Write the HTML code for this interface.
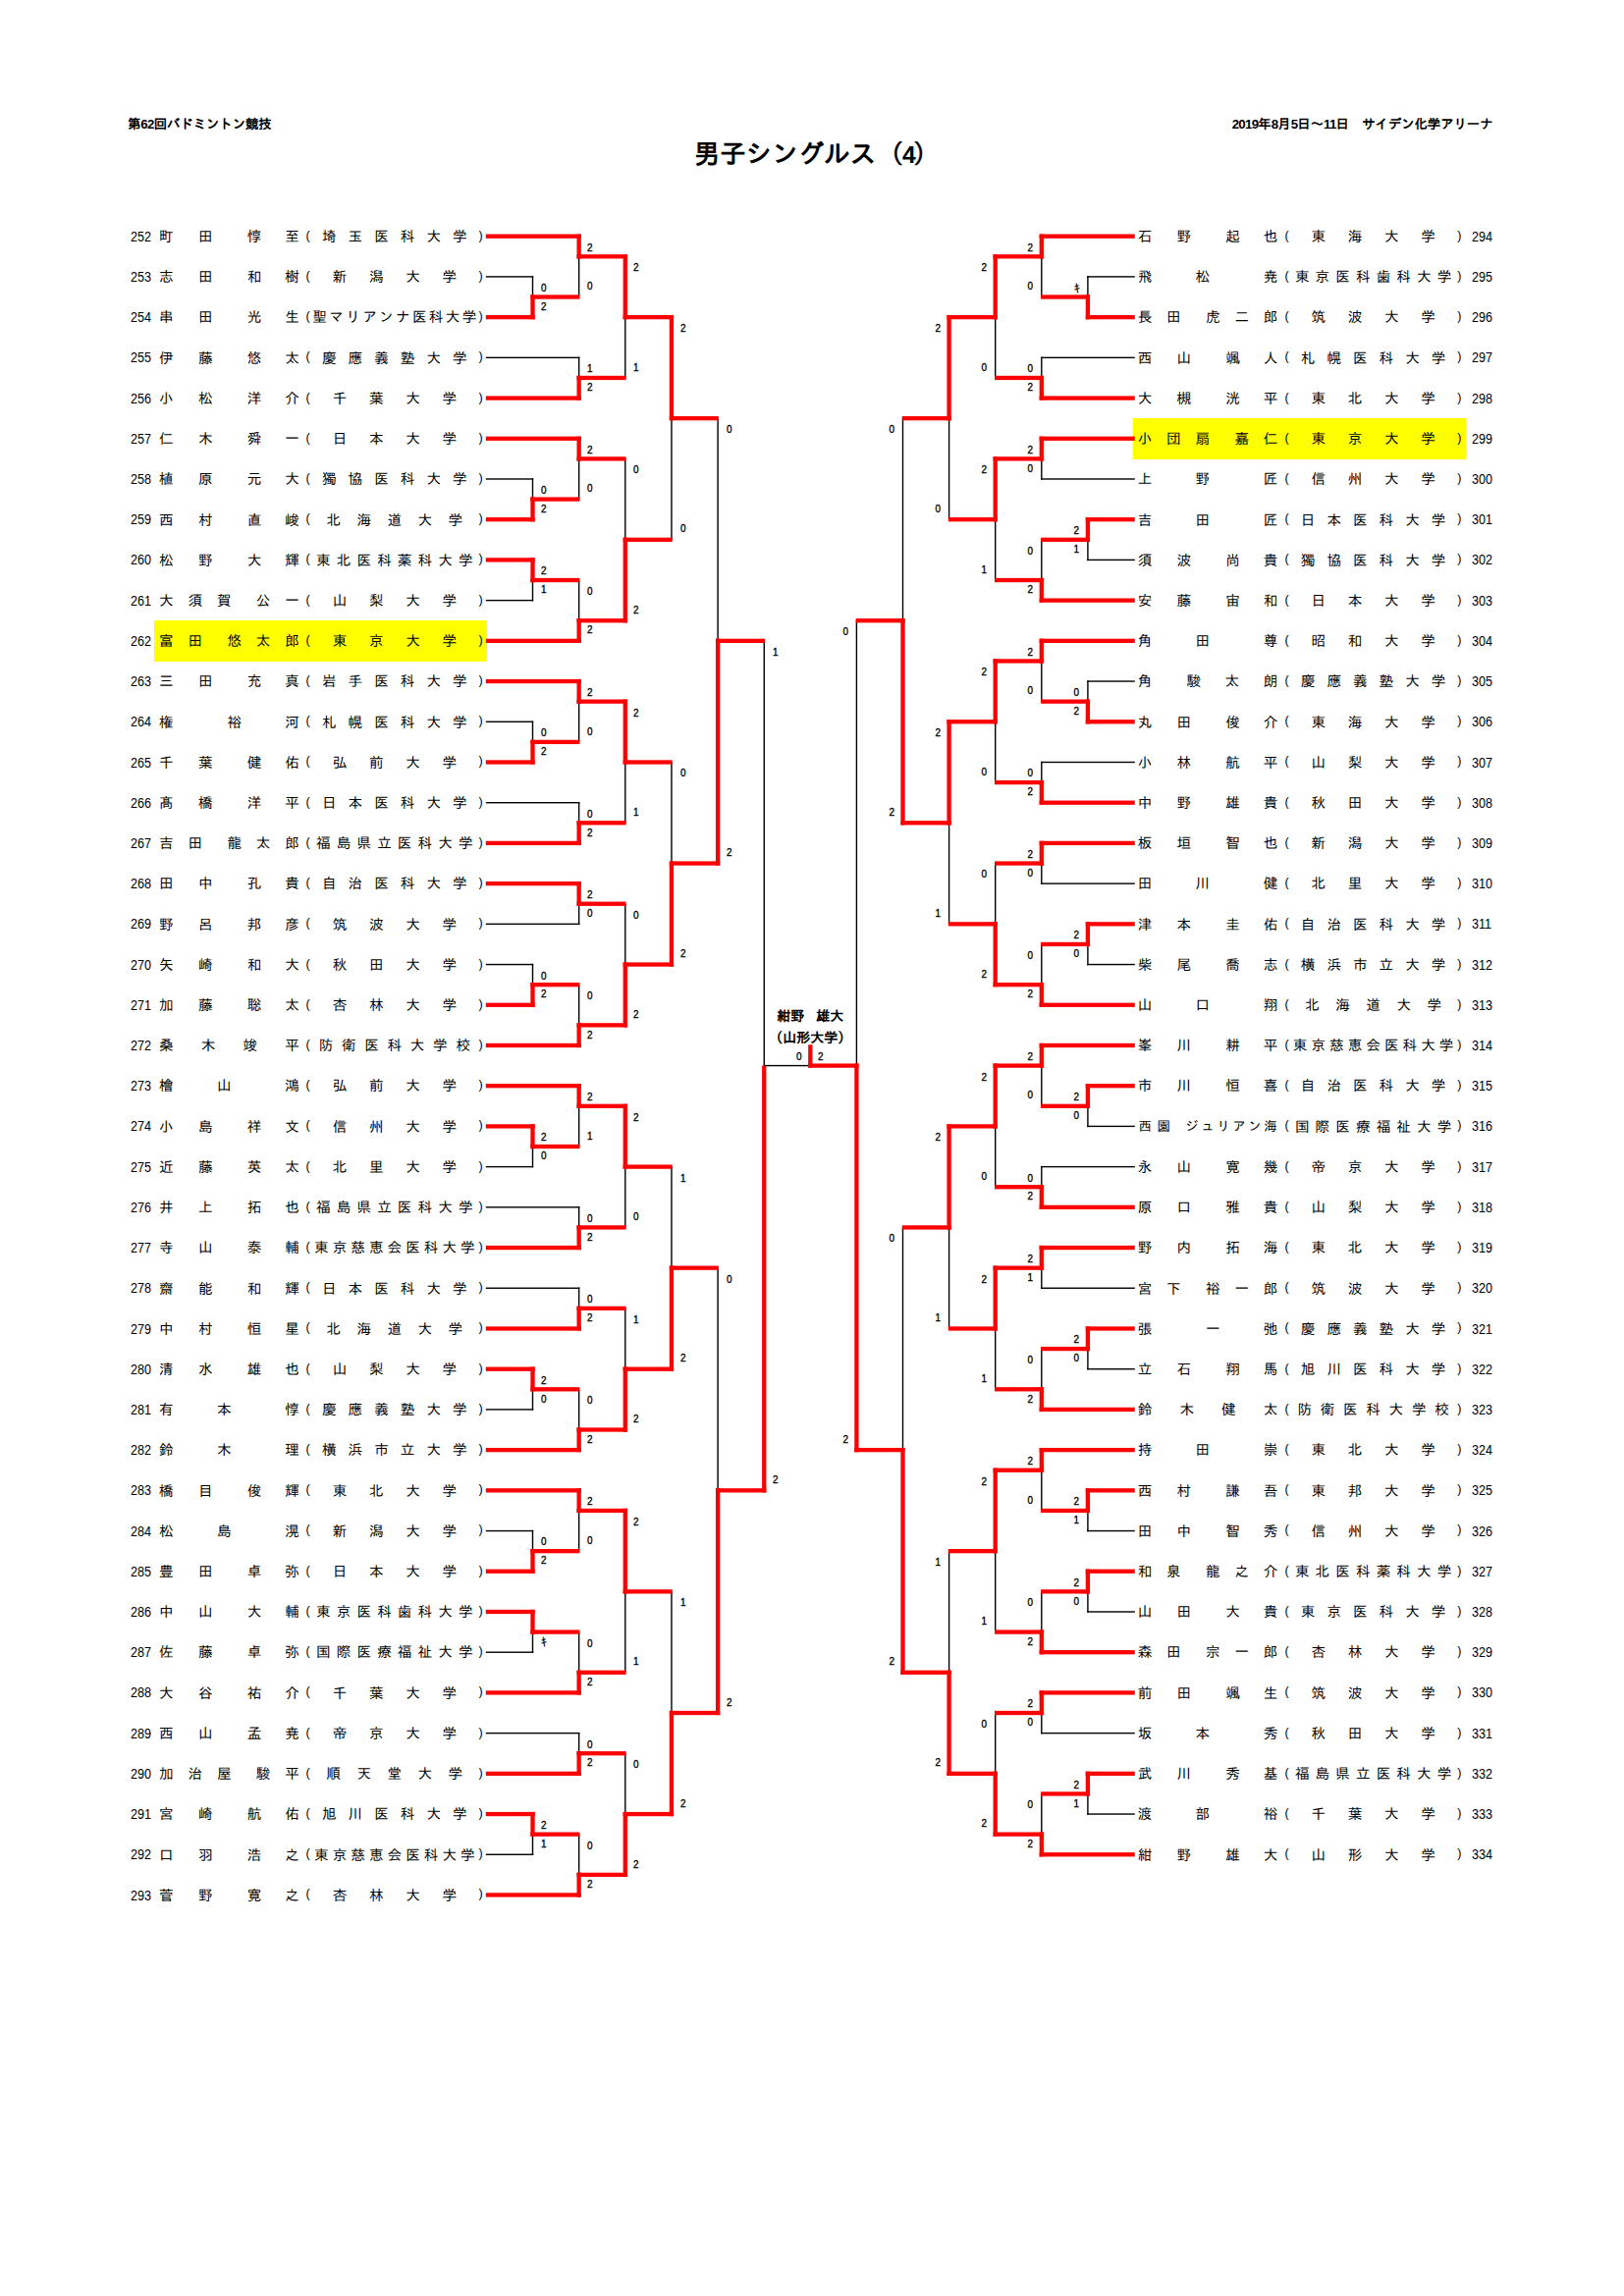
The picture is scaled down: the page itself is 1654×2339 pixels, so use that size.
<!DOCTYPE html>
<html lang="ja"><head><meta charset="utf-8"><title>男子シングルス（4）</title><style>
html,body{margin:0;padding:0;background:#fff}
body{width:1654px;height:2339px;position:relative;overflow:hidden;font-family:"Liberation Sans","IPAGothic","Noto Sans CJK JP",sans-serif;color:#000}
span{position:absolute;white-space:nowrap;line-height:1}
.n{font-size:14.6px}
.s13{font-size:13.4px}
.p{width:10px;text-align:center;font-size:12.5px;margin-top:-0.1px}
.num{font-size:14px;transform:scaleX(0.9);transform-origin:0 50%}
.sc{font-size:11px;margin-top:-5.5px;-webkit-text-stroke:0.35px #000;transform:scaleX(0.9);transform-origin:0 50%}
.scr{transform-origin:100% 50%}
.ki.scr{margin-right:-0.7px}
.ki{font-size:12px;margin-top:-5.3px;-webkit-text-stroke:0.2px #000;transform:none}
.hl{position:absolute;background:#ffff00}
.hd{font-size:13.33px;font-weight:bold}
.ttl{font-size:26.5px;font-weight:bold}
.ttl i{font-style:normal;position:relative}
.ttl i.pp{font-weight:normal;-webkit-text-stroke:0.55px #000}
b.d{letter-spacing:-0.75px}
.win{font-size:14px;font-weight:bold;text-align:center;width:120px}
svg{position:absolute;left:0;top:0}
</style></head><body>
<div class="hl" style="left:157.4px;top:631.5px;width:338.8px;height:42.3px"></div>
<div class="hl" style="left:1154.2px;top:425.5px;width:338.6px;height:42.3px"></div>
<svg width="1654" height="2339" viewBox="0 0 1654 2339"><g fill="#000"><rect x="494.80" y="281.21" width="48.40" height="1.40"/><rect x="541.80" y="281.21" width="1.40" height="21.31"/><rect x="494.80" y="487.28" width="48.40" height="1.40"/><rect x="541.80" y="487.28" width="1.40" height="21.31"/><rect x="494.80" y="610.93" width="48.40" height="1.40"/><rect x="541.80" y="591.02" width="1.40" height="21.31"/><rect x="494.80" y="734.57" width="48.40" height="1.40"/><rect x="541.80" y="734.57" width="1.40" height="21.31"/><rect x="494.80" y="981.85" width="48.40" height="1.40"/><rect x="541.80" y="981.85" width="1.40" height="21.31"/><rect x="494.80" y="1187.92" width="48.40" height="1.40"/><rect x="541.80" y="1168.01" width="1.40" height="21.31"/><rect x="494.80" y="1435.21" width="48.40" height="1.40"/><rect x="541.80" y="1415.30" width="1.40" height="21.31"/><rect x="494.80" y="1558.85" width="48.40" height="1.40"/><rect x="541.80" y="1558.85" width="1.40" height="21.31"/><rect x="494.80" y="1682.49" width="48.40" height="1.40"/><rect x="541.80" y="1662.58" width="1.40" height="21.31"/><rect x="494.80" y="1888.56" width="48.40" height="1.40"/><rect x="541.80" y="1868.65" width="1.40" height="21.31"/><rect x="588.95" y="261.31" width="1.40" height="41.91"/><rect x="494.80" y="363.64" width="95.55" height="1.40"/><rect x="588.95" y="363.64" width="1.40" height="21.31"/><rect x="588.95" y="467.38" width="1.40" height="41.91"/><rect x="588.95" y="590.32" width="1.40" height="41.91"/><rect x="588.95" y="714.66" width="1.40" height="41.91"/><rect x="494.80" y="817.00" width="95.55" height="1.40"/><rect x="588.95" y="817.00" width="1.40" height="21.31"/><rect x="494.80" y="940.64" width="95.55" height="1.40"/><rect x="588.95" y="920.73" width="1.40" height="21.31"/><rect x="588.95" y="1002.46" width="1.40" height="41.91"/><rect x="588.95" y="1126.80" width="1.40" height="41.91"/><rect x="494.80" y="1229.14" width="95.55" height="1.40"/><rect x="588.95" y="1229.14" width="1.40" height="21.31"/><rect x="494.80" y="1311.56" width="95.55" height="1.40"/><rect x="588.95" y="1311.56" width="1.40" height="21.31"/><rect x="588.95" y="1414.60" width="1.40" height="41.91"/><rect x="588.95" y="1538.94" width="1.40" height="41.91"/><rect x="588.95" y="1661.88" width="1.40" height="41.91"/><rect x="494.80" y="1764.92" width="95.55" height="1.40"/><rect x="588.95" y="1764.92" width="1.40" height="21.31"/><rect x="588.95" y="1867.95" width="1.40" height="41.91"/><rect x="636.10" y="323.13" width="1.40" height="62.52"/><rect x="636.10" y="466.68" width="1.40" height="83.13"/><rect x="636.10" y="776.48" width="1.40" height="62.52"/><rect x="636.10" y="920.03" width="1.40" height="62.52"/><rect x="636.10" y="1188.62" width="1.40" height="62.52"/><rect x="636.10" y="1332.17" width="1.40" height="62.52"/><rect x="636.10" y="1621.37" width="1.40" height="83.13"/><rect x="636.10" y="1785.52" width="1.40" height="62.52"/><rect x="683.25" y="426.16" width="1.40" height="124.34"/><rect x="683.25" y="775.78" width="1.40" height="103.74"/><rect x="683.25" y="1187.92" width="1.40" height="103.73"/><rect x="683.25" y="1620.67" width="1.40" height="124.34"/><rect x="730.40" y="425.46" width="1.40" height="227.38"/><rect x="730.40" y="1290.96" width="1.40" height="227.38"/><rect x="777.55" y="652.14" width="1.40" height="433.45"/><rect x="1107.20" y="281.21" width="48.60" height="1.40"/><rect x="1107.20" y="281.21" width="1.40" height="21.31"/><rect x="1107.20" y="569.71" width="48.60" height="1.40"/><rect x="1107.20" y="549.81" width="1.40" height="21.31"/><rect x="1107.20" y="693.35" width="48.60" height="1.40"/><rect x="1107.20" y="693.35" width="1.40" height="21.31"/><rect x="1107.20" y="981.85" width="48.60" height="1.40"/><rect x="1107.20" y="961.94" width="1.40" height="21.31"/><rect x="1107.20" y="1146.71" width="48.60" height="1.40"/><rect x="1107.20" y="1126.80" width="1.40" height="21.31"/><rect x="1107.20" y="1393.99" width="48.60" height="1.40"/><rect x="1107.20" y="1374.09" width="1.40" height="21.31"/><rect x="1107.20" y="1558.85" width="48.60" height="1.40"/><rect x="1107.20" y="1538.94" width="1.40" height="21.31"/><rect x="1107.20" y="1641.28" width="48.60" height="1.40"/><rect x="1107.20" y="1621.37" width="1.40" height="21.31"/><rect x="1107.20" y="1847.35" width="48.60" height="1.40"/><rect x="1107.20" y="1827.44" width="1.40" height="21.31"/><rect x="1060.10" y="261.31" width="1.40" height="41.91"/><rect x="1060.10" y="363.64" width="95.70" height="1.40"/><rect x="1060.10" y="363.64" width="1.40" height="21.31"/><rect x="1060.10" y="487.28" width="95.70" height="1.40"/><rect x="1060.10" y="467.38" width="1.40" height="21.31"/><rect x="1060.10" y="549.11" width="1.40" height="41.91"/><rect x="1060.10" y="673.45" width="1.40" height="41.91"/><rect x="1060.10" y="775.78" width="95.70" height="1.40"/><rect x="1060.10" y="775.78" width="1.40" height="21.31"/><rect x="1060.10" y="899.42" width="95.70" height="1.40"/><rect x="1060.10" y="879.52" width="1.40" height="21.31"/><rect x="1060.10" y="961.24" width="1.40" height="41.91"/><rect x="1060.10" y="1085.59" width="1.40" height="41.91"/><rect x="1060.10" y="1187.92" width="95.70" height="1.40"/><rect x="1060.10" y="1187.92" width="1.40" height="21.31"/><rect x="1060.10" y="1311.56" width="95.70" height="1.40"/><rect x="1060.10" y="1291.66" width="1.40" height="21.31"/><rect x="1060.10" y="1373.38" width="1.40" height="41.91"/><rect x="1060.10" y="1497.73" width="1.40" height="41.91"/><rect x="1060.10" y="1620.67" width="1.40" height="41.91"/><rect x="1060.10" y="1764.92" width="95.70" height="1.40"/><rect x="1060.10" y="1745.01" width="1.40" height="21.31"/><rect x="1060.10" y="1826.74" width="1.40" height="41.91"/><rect x="1013.00" y="323.13" width="1.40" height="62.52"/><rect x="1013.00" y="529.20" width="1.40" height="62.52"/><rect x="1013.00" y="735.27" width="1.40" height="62.52"/><rect x="1013.00" y="878.82" width="1.40" height="62.52"/><rect x="1013.00" y="1147.41" width="1.40" height="62.52"/><rect x="1013.00" y="1353.48" width="1.40" height="62.52"/><rect x="1013.00" y="1580.15" width="1.40" height="83.13"/><rect x="1013.00" y="1744.31" width="1.40" height="62.52"/><rect x="965.90" y="426.16" width="1.40" height="103.74"/><rect x="965.90" y="838.30" width="1.40" height="103.74"/><rect x="965.90" y="1250.44" width="1.40" height="103.74"/><rect x="965.90" y="1579.45" width="1.40" height="124.34"/><rect x="918.80" y="425.46" width="1.40" height="206.77"/><rect x="918.80" y="1249.74" width="1.40" height="227.38"/><rect x="871.70" y="631.53" width="1.40" height="454.05"/><rect x="777.55" y="1084.89" width="47.75" height="1.40"/></g><g fill="#ff0000"><rect x="494.80" y="320.98" width="49.85" height="4.30"/><rect x="540.35" y="300.37" width="4.30" height="24.91"/><rect x="494.80" y="527.05" width="49.85" height="4.30"/><rect x="540.35" y="506.44" width="4.30" height="24.91"/><rect x="494.80" y="568.26" width="49.85" height="4.30"/><rect x="540.35" y="568.26" width="4.30" height="24.91"/><rect x="494.80" y="774.33" width="49.85" height="4.30"/><rect x="540.35" y="753.73" width="4.30" height="24.91"/><rect x="494.80" y="1021.62" width="49.85" height="4.30"/><rect x="540.35" y="1001.01" width="4.30" height="24.91"/><rect x="494.80" y="1145.26" width="49.85" height="4.30"/><rect x="540.35" y="1145.26" width="4.30" height="24.91"/><rect x="494.80" y="1392.54" width="49.85" height="4.30"/><rect x="540.35" y="1392.54" width="4.30" height="24.91"/><rect x="494.80" y="1598.61" width="49.85" height="4.30"/><rect x="540.35" y="1578.00" width="4.30" height="24.91"/><rect x="494.80" y="1639.83" width="49.85" height="4.30"/><rect x="540.35" y="1639.83" width="4.30" height="24.91"/><rect x="494.80" y="1845.90" width="49.85" height="4.30"/><rect x="540.35" y="1845.90" width="4.30" height="24.91"/><rect x="494.80" y="238.55" width="97.00" height="4.30"/><rect x="540.35" y="300.37" width="50.00" height="4.30"/><rect x="587.50" y="238.55" width="4.30" height="24.91"/><rect x="494.80" y="403.41" width="97.00" height="4.30"/><rect x="587.50" y="382.80" width="4.30" height="24.91"/><rect x="494.80" y="444.62" width="97.00" height="4.30"/><rect x="540.35" y="506.44" width="50.00" height="4.30"/><rect x="587.50" y="444.62" width="4.30" height="24.91"/><rect x="540.35" y="588.87" width="50.00" height="4.30"/><rect x="494.80" y="650.69" width="97.00" height="4.30"/><rect x="587.50" y="630.08" width="4.30" height="24.91"/><rect x="494.80" y="691.90" width="97.00" height="4.30"/><rect x="540.35" y="753.73" width="50.00" height="4.30"/><rect x="587.50" y="691.90" width="4.30" height="24.91"/><rect x="494.80" y="856.76" width="97.00" height="4.30"/><rect x="587.50" y="836.15" width="4.30" height="24.91"/><rect x="494.80" y="897.97" width="97.00" height="4.30"/><rect x="587.50" y="897.97" width="4.30" height="24.91"/><rect x="540.35" y="1001.01" width="50.00" height="4.30"/><rect x="494.80" y="1062.83" width="97.00" height="4.30"/><rect x="587.50" y="1042.22" width="4.30" height="24.91"/><rect x="494.80" y="1104.04" width="97.00" height="4.30"/><rect x="540.35" y="1165.86" width="50.00" height="4.30"/><rect x="587.50" y="1104.04" width="4.30" height="24.91"/><rect x="494.80" y="1268.90" width="97.00" height="4.30"/><rect x="587.50" y="1248.29" width="4.30" height="24.91"/><rect x="494.80" y="1351.33" width="97.00" height="4.30"/><rect x="587.50" y="1330.72" width="4.30" height="24.91"/><rect x="540.35" y="1413.15" width="50.00" height="4.30"/><rect x="494.80" y="1474.97" width="97.00" height="4.30"/><rect x="587.50" y="1454.36" width="4.30" height="24.91"/><rect x="494.80" y="1516.18" width="97.00" height="4.30"/><rect x="540.35" y="1578.00" width="50.00" height="4.30"/><rect x="587.50" y="1516.18" width="4.30" height="24.91"/><rect x="540.35" y="1660.43" width="50.00" height="4.30"/><rect x="494.80" y="1722.25" width="97.00" height="4.30"/><rect x="587.50" y="1701.65" width="4.30" height="24.91"/><rect x="494.80" y="1804.68" width="97.00" height="4.30"/><rect x="587.50" y="1784.07" width="4.30" height="24.91"/><rect x="540.35" y="1866.50" width="50.00" height="4.30"/><rect x="494.80" y="1928.32" width="97.00" height="4.30"/><rect x="587.50" y="1907.72" width="4.30" height="24.91"/><rect x="587.50" y="259.16" width="51.45" height="4.30"/><rect x="587.50" y="382.80" width="50.00" height="4.30"/><rect x="634.65" y="259.16" width="4.30" height="66.12"/><rect x="587.50" y="465.23" width="50.00" height="4.30"/><rect x="587.50" y="630.08" width="51.45" height="4.30"/><rect x="634.65" y="547.66" width="4.30" height="86.73"/><rect x="587.50" y="712.51" width="51.45" height="4.30"/><rect x="587.50" y="836.15" width="50.00" height="4.30"/><rect x="634.65" y="712.51" width="4.30" height="66.12"/><rect x="587.50" y="918.58" width="50.00" height="4.30"/><rect x="587.50" y="1042.22" width="51.45" height="4.30"/><rect x="634.65" y="980.40" width="4.30" height="66.12"/><rect x="587.50" y="1124.65" width="51.45" height="4.30"/><rect x="587.50" y="1248.29" width="50.00" height="4.30"/><rect x="634.65" y="1124.65" width="4.30" height="66.12"/><rect x="587.50" y="1330.72" width="50.00" height="4.30"/><rect x="587.50" y="1454.36" width="51.45" height="4.30"/><rect x="634.65" y="1392.54" width="4.30" height="66.12"/><rect x="587.50" y="1536.79" width="51.45" height="4.30"/><rect x="587.50" y="1701.65" width="50.00" height="4.30"/><rect x="634.65" y="1536.79" width="4.30" height="86.73"/><rect x="587.50" y="1784.07" width="50.00" height="4.30"/><rect x="587.50" y="1907.72" width="51.45" height="4.30"/><rect x="634.65" y="1845.90" width="4.30" height="66.12"/><rect x="634.65" y="320.98" width="51.45" height="4.30"/><rect x="634.65" y="547.66" width="50.00" height="4.30"/><rect x="681.80" y="320.98" width="4.30" height="107.33"/><rect x="634.65" y="774.33" width="50.00" height="4.30"/><rect x="634.65" y="980.40" width="51.45" height="4.30"/><rect x="681.80" y="877.37" width="4.30" height="107.33"/><rect x="634.65" y="1186.47" width="50.00" height="4.30"/><rect x="634.65" y="1392.54" width="51.45" height="4.30"/><rect x="681.80" y="1289.51" width="4.30" height="107.34"/><rect x="634.65" y="1619.22" width="50.00" height="4.30"/><rect x="634.65" y="1845.90" width="51.45" height="4.30"/><rect x="681.80" y="1742.86" width="4.30" height="107.34"/><rect x="681.80" y="424.01" width="50.00" height="4.30"/><rect x="681.80" y="877.37" width="51.45" height="4.30"/><rect x="728.95" y="650.69" width="4.30" height="230.98"/><rect x="681.80" y="1289.51" width="50.00" height="4.30"/><rect x="681.80" y="1742.86" width="51.45" height="4.30"/><rect x="728.95" y="1516.18" width="4.30" height="230.98"/><rect x="728.95" y="650.69" width="50.00" height="4.30"/><rect x="728.95" y="1516.18" width="51.45" height="4.30"/><rect x="776.10" y="1085.59" width="4.30" height="434.90"/><rect x="1105.75" y="320.98" width="50.05" height="4.30"/><rect x="1105.75" y="300.37" width="4.30" height="24.91"/><rect x="1105.75" y="527.05" width="50.05" height="4.30"/><rect x="1105.75" y="527.05" width="4.30" height="24.91"/><rect x="1105.75" y="733.12" width="50.05" height="4.30"/><rect x="1105.75" y="712.51" width="4.30" height="24.91"/><rect x="1105.75" y="939.19" width="50.05" height="4.30"/><rect x="1105.75" y="939.19" width="4.30" height="24.91"/><rect x="1105.75" y="1104.04" width="50.05" height="4.30"/><rect x="1105.75" y="1104.04" width="4.30" height="24.91"/><rect x="1105.75" y="1351.33" width="50.05" height="4.30"/><rect x="1105.75" y="1351.33" width="4.30" height="24.91"/><rect x="1105.75" y="1516.18" width="50.05" height="4.30"/><rect x="1105.75" y="1516.18" width="4.30" height="24.91"/><rect x="1105.75" y="1598.61" width="50.05" height="4.30"/><rect x="1105.75" y="1598.61" width="4.30" height="24.91"/><rect x="1105.75" y="1804.68" width="50.05" height="4.30"/><rect x="1105.75" y="1804.68" width="4.30" height="24.91"/><rect x="1058.65" y="238.55" width="97.15" height="4.30"/><rect x="1060.10" y="300.37" width="49.95" height="4.30"/><rect x="1058.65" y="238.55" width="4.30" height="24.91"/><rect x="1058.65" y="403.41" width="97.15" height="4.30"/><rect x="1058.65" y="382.80" width="4.30" height="24.91"/><rect x="1058.65" y="444.62" width="97.15" height="4.30"/><rect x="1058.65" y="444.62" width="4.30" height="24.91"/><rect x="1060.10" y="547.66" width="49.95" height="4.30"/><rect x="1058.65" y="609.48" width="97.15" height="4.30"/><rect x="1058.65" y="588.87" width="4.30" height="24.91"/><rect x="1058.65" y="650.69" width="97.15" height="4.30"/><rect x="1060.10" y="712.51" width="49.95" height="4.30"/><rect x="1058.65" y="650.69" width="4.30" height="24.91"/><rect x="1058.65" y="815.55" width="97.15" height="4.30"/><rect x="1058.65" y="794.94" width="4.30" height="24.91"/><rect x="1058.65" y="856.76" width="97.15" height="4.30"/><rect x="1058.65" y="856.76" width="4.30" height="24.91"/><rect x="1060.10" y="959.79" width="49.95" height="4.30"/><rect x="1058.65" y="1021.62" width="97.15" height="4.30"/><rect x="1058.65" y="1001.01" width="4.30" height="24.91"/><rect x="1058.65" y="1062.83" width="97.15" height="4.30"/><rect x="1060.10" y="1124.65" width="49.95" height="4.30"/><rect x="1058.65" y="1062.83" width="4.30" height="24.91"/><rect x="1058.65" y="1227.69" width="97.15" height="4.30"/><rect x="1058.65" y="1207.08" width="4.30" height="24.91"/><rect x="1058.65" y="1268.90" width="97.15" height="4.30"/><rect x="1058.65" y="1268.90" width="4.30" height="24.91"/><rect x="1060.10" y="1371.93" width="49.95" height="4.30"/><rect x="1058.65" y="1433.76" width="97.15" height="4.30"/><rect x="1058.65" y="1413.15" width="4.30" height="24.91"/><rect x="1058.65" y="1474.97" width="97.15" height="4.30"/><rect x="1060.10" y="1536.79" width="49.95" height="4.30"/><rect x="1058.65" y="1474.97" width="4.30" height="24.91"/><rect x="1060.10" y="1619.22" width="49.95" height="4.30"/><rect x="1058.65" y="1681.04" width="97.15" height="4.30"/><rect x="1058.65" y="1660.43" width="4.30" height="24.91"/><rect x="1058.65" y="1722.25" width="97.15" height="4.30"/><rect x="1058.65" y="1722.25" width="4.30" height="24.91"/><rect x="1060.10" y="1825.29" width="49.95" height="4.30"/><rect x="1058.65" y="1887.11" width="97.15" height="4.30"/><rect x="1058.65" y="1866.50" width="4.30" height="24.91"/><rect x="1011.55" y="259.16" width="51.40" height="4.30"/><rect x="1013.00" y="382.80" width="49.95" height="4.30"/><rect x="1011.55" y="259.16" width="4.30" height="66.12"/><rect x="1011.55" y="465.23" width="51.40" height="4.30"/><rect x="1013.00" y="588.87" width="49.95" height="4.30"/><rect x="1011.55" y="465.23" width="4.30" height="66.12"/><rect x="1011.55" y="671.30" width="51.40" height="4.30"/><rect x="1013.00" y="794.94" width="49.95" height="4.30"/><rect x="1011.55" y="671.30" width="4.30" height="66.12"/><rect x="1013.00" y="877.37" width="49.95" height="4.30"/><rect x="1011.55" y="1001.01" width="51.40" height="4.30"/><rect x="1011.55" y="939.19" width="4.30" height="66.12"/><rect x="1011.55" y="1083.44" width="51.40" height="4.30"/><rect x="1013.00" y="1207.08" width="49.95" height="4.30"/><rect x="1011.55" y="1083.44" width="4.30" height="66.12"/><rect x="1011.55" y="1289.51" width="51.40" height="4.30"/><rect x="1013.00" y="1413.15" width="49.95" height="4.30"/><rect x="1011.55" y="1289.51" width="4.30" height="66.12"/><rect x="1011.55" y="1495.58" width="51.40" height="4.30"/><rect x="1013.00" y="1660.43" width="49.95" height="4.30"/><rect x="1011.55" y="1495.58" width="4.30" height="86.73"/><rect x="1013.00" y="1742.86" width="49.95" height="4.30"/><rect x="1011.55" y="1866.50" width="51.40" height="4.30"/><rect x="1011.55" y="1804.68" width="4.30" height="66.12"/><rect x="964.45" y="320.98" width="51.40" height="4.30"/><rect x="965.90" y="527.05" width="49.95" height="4.30"/><rect x="964.45" y="320.98" width="4.30" height="107.33"/><rect x="964.45" y="733.12" width="51.40" height="4.30"/><rect x="965.90" y="939.19" width="49.95" height="4.30"/><rect x="964.45" y="733.12" width="4.30" height="107.33"/><rect x="964.45" y="1145.26" width="51.40" height="4.30"/><rect x="965.90" y="1351.33" width="49.95" height="4.30"/><rect x="964.45" y="1145.26" width="4.30" height="107.34"/><rect x="965.90" y="1578.00" width="49.95" height="4.30"/><rect x="964.45" y="1804.68" width="51.40" height="4.30"/><rect x="964.45" y="1701.65" width="4.30" height="107.34"/><rect x="918.80" y="424.01" width="49.95" height="4.30"/><rect x="917.35" y="836.15" width="51.40" height="4.30"/><rect x="917.35" y="630.08" width="4.30" height="210.37"/><rect x="918.80" y="1248.29" width="49.95" height="4.30"/><rect x="917.35" y="1701.65" width="51.40" height="4.30"/><rect x="917.35" y="1474.97" width="4.30" height="230.98"/><rect x="871.70" y="630.08" width="49.95" height="4.30"/><rect x="870.25" y="1474.97" width="51.40" height="4.30"/><rect x="870.25" y="1083.44" width="4.30" height="395.83"/><rect x="823.15" y="1083.44" width="51.40" height="4.30"/><rect x="823.15" y="1064.30" width="4.30" height="23.44"/></g></svg>
<span class="hd" style="left:130px;top:119.5px">第<b class="d">62</b>回バドミントン競技</span>
<span class="hd" style="right:133.5px;top:119.5px"><b class="d">2019</b>年<b class="d">8</b>月<b class="d">5</b>日～<b class="d">11</b>日　サイデン化学アリーナ</span>
<span class="ttl" style="left:706.7px;top:144.3px">男子シングルス<i class="pp" style="left:1.8px">（</i><i style="font-size:24.5px;left:0.3px">4</i><i class="pp" style="left:-2.6px">）</i></span>
<span class="win" style="left:765.3px;top:1027.5px">紺野<i style="font-style:normal;letter-spacing:-2px">　</i>雄大</span>
<span class="win" style="left:765.3px;top:1049.5px">（山形大学）</span>
<span class="sc" style="left:811.3px;top:1076.3px">0</span>
<span class="sc" style="left:833.4px;top:1076.3px">2</span>
<span class="n num" style="left:132.6px;top:233.7px">252</span>
<span class="n" style="left:162.10px;top:234.00px;letter-spacing:25.20px">町田</span>
<span class="n" style="left:251.70px;top:234.00px;letter-spacing:23.90px">惇至</span>
<span class="n p" style="left:308.7px;top:233.7px">(</span>
<span class="n" style="left:328.01px;top:234.00px;letter-spacing:12.01px">埼玉医科大学</span>
<span class="n p" style="left:484.5px;top:233.7px">)</span>
<span class="n num" style="left:132.6px;top:274.9px">253</span>
<span class="n" style="left:162.10px;top:275.21px;letter-spacing:25.20px">志田</span>
<span class="n" style="left:251.70px;top:275.21px;letter-spacing:23.90px">和樹</span>
<span class="n p" style="left:308.7px;top:274.9px">(</span>
<span class="n" style="left:338.66px;top:275.21px;letter-spacing:22.66px">新潟大学</span>
<span class="n p" style="left:484.5px;top:274.9px">)</span>
<span class="n num" style="left:132.6px;top:316.1px">254</span>
<span class="n" style="left:162.10px;top:316.43px;letter-spacing:25.20px">串田</span>
<span class="n" style="left:251.70px;top:316.43px;letter-spacing:23.90px">光生</span>
<span class="n p" style="left:308.7px;top:316.1px">(</span>
<span class="n" style="left:318.34px;top:316.43px;letter-spacing:2.34px">聖マリアンナ医科大学</span>
<span class="n p" style="left:484.5px;top:316.1px">)</span>
<span class="n num" style="left:132.6px;top:357.3px">255</span>
<span class="n" style="left:162.10px;top:357.64px;letter-spacing:25.20px">伊藤</span>
<span class="n" style="left:251.70px;top:357.64px;letter-spacing:23.90px">悠太</span>
<span class="n p" style="left:308.7px;top:357.3px">(</span>
<span class="n" style="left:328.01px;top:357.64px;letter-spacing:12.01px">慶應義塾大学</span>
<span class="n p" style="left:484.5px;top:357.3px">)</span>
<span class="n num" style="left:132.6px;top:398.6px">256</span>
<span class="n" style="left:162.10px;top:398.86px;letter-spacing:25.20px">小松</span>
<span class="n" style="left:251.70px;top:398.86px;letter-spacing:23.90px">洋介</span>
<span class="n p" style="left:308.7px;top:398.6px">(</span>
<span class="n" style="left:338.66px;top:398.86px;letter-spacing:22.66px">千葉大学</span>
<span class="n p" style="left:484.5px;top:398.6px">)</span>
<span class="n num" style="left:132.6px;top:439.8px">257</span>
<span class="n" style="left:162.10px;top:440.07px;letter-spacing:25.20px">仁木</span>
<span class="n" style="left:251.70px;top:440.07px;letter-spacing:23.90px">舜一</span>
<span class="n p" style="left:308.7px;top:439.8px">(</span>
<span class="n" style="left:338.66px;top:440.07px;letter-spacing:22.66px">日本大学</span>
<span class="n p" style="left:484.5px;top:439.8px">)</span>
<span class="n num" style="left:132.6px;top:481.0px">258</span>
<span class="n" style="left:162.10px;top:481.28px;letter-spacing:25.20px">植原</span>
<span class="n" style="left:251.70px;top:481.28px;letter-spacing:23.90px">元大</span>
<span class="n p" style="left:308.7px;top:481.0px">(</span>
<span class="n" style="left:328.01px;top:481.28px;letter-spacing:12.01px">獨協医科大学</span>
<span class="n p" style="left:484.5px;top:481.0px">)</span>
<span class="n num" style="left:132.6px;top:522.2px">259</span>
<span class="n" style="left:162.10px;top:522.50px;letter-spacing:25.20px">西村</span>
<span class="n" style="left:251.70px;top:522.50px;letter-spacing:23.90px">直峻</span>
<span class="n p" style="left:308.7px;top:522.2px">(</span>
<span class="n" style="left:332.45px;top:522.50px;letter-spacing:16.45px">北海道大学</span>
<span class="n p" style="left:484.5px;top:522.2px">)</span>
<span class="n num" style="left:132.6px;top:563.4px">260</span>
<span class="n" style="left:162.10px;top:563.71px;letter-spacing:25.20px">松野</span>
<span class="n" style="left:251.70px;top:563.71px;letter-spacing:23.90px">大輝</span>
<span class="n p" style="left:308.7px;top:563.4px">(</span>
<span class="n" style="left:322.10px;top:563.71px;letter-spacing:6.10px">東北医科薬科大学</span>
<span class="n p" style="left:484.5px;top:563.4px">)</span>
<span class="n num" style="left:132.6px;top:604.6px">261</span>
<span class="n" style="left:162.10px;top:604.93px;letter-spacing:14.80px">大須賀</span>
<span class="n" style="left:260.80px;top:604.93px;letter-spacing:14.80px">公一</span>
<span class="n p" style="left:308.7px;top:604.6px">(</span>
<span class="n" style="left:338.66px;top:604.93px;letter-spacing:22.66px">山梨大学</span>
<span class="n p" style="left:484.5px;top:604.6px">)</span>
<span class="n num" style="left:132.6px;top:645.8px">262</span>
<span class="n" style="left:162.10px;top:646.14px;letter-spacing:14.80px">富田</span>
<span class="n" style="left:231.40px;top:646.14px;letter-spacing:14.80px">悠太郎</span>
<span class="n p" style="left:308.7px;top:645.8px">(</span>
<span class="n" style="left:338.66px;top:646.14px;letter-spacing:22.66px">東京大学</span>
<span class="n p" style="left:484.5px;top:645.8px">)</span>
<span class="n num" style="left:132.6px;top:687.1px">263</span>
<span class="n" style="left:162.10px;top:687.35px;letter-spacing:25.20px">三田</span>
<span class="n" style="left:251.70px;top:687.35px;letter-spacing:23.90px">充真</span>
<span class="n p" style="left:308.7px;top:687.1px">(</span>
<span class="n" style="left:328.01px;top:687.35px;letter-spacing:12.01px">岩手医科大学</span>
<span class="n p" style="left:484.5px;top:687.1px">)</span>
<span class="n num" style="left:132.6px;top:728.3px">264</span>
<span class="n" style="left:162.10px;top:728.57px;letter-spacing:44.20px">権</span>
<span class="n" style="left:231.40px;top:728.57px;letter-spacing:44.20px">裕河</span>
<span class="n p" style="left:308.7px;top:728.3px">(</span>
<span class="n" style="left:328.01px;top:728.57px;letter-spacing:12.01px">札幌医科大学</span>
<span class="n p" style="left:484.5px;top:728.3px">)</span>
<span class="n num" style="left:132.6px;top:769.5px">265</span>
<span class="n" style="left:162.10px;top:769.78px;letter-spacing:25.20px">千葉</span>
<span class="n" style="left:251.70px;top:769.78px;letter-spacing:23.90px">健佑</span>
<span class="n p" style="left:308.7px;top:769.5px">(</span>
<span class="n" style="left:338.66px;top:769.78px;letter-spacing:22.66px">弘前大学</span>
<span class="n p" style="left:484.5px;top:769.5px">)</span>
<span class="n num" style="left:132.6px;top:810.7px">266</span>
<span class="n" style="left:162.10px;top:811.00px;letter-spacing:25.20px">髙橋</span>
<span class="n" style="left:251.70px;top:811.00px;letter-spacing:23.90px">洋平</span>
<span class="n p" style="left:308.7px;top:810.7px">(</span>
<span class="n" style="left:328.01px;top:811.00px;letter-spacing:12.01px">日本医科大学</span>
<span class="n p" style="left:484.5px;top:810.7px">)</span>
<span class="n num" style="left:132.6px;top:851.9px">267</span>
<span class="n" style="left:162.10px;top:852.21px;letter-spacing:14.80px">吉田</span>
<span class="n" style="left:231.40px;top:852.21px;letter-spacing:14.80px">龍太郎</span>
<span class="n p" style="left:308.7px;top:851.9px">(</span>
<span class="n" style="left:322.10px;top:852.21px;letter-spacing:6.10px">福島県立医科大学</span>
<span class="n p" style="left:484.5px;top:851.9px">)</span>
<span class="n num" style="left:132.6px;top:893.1px">268</span>
<span class="n" style="left:162.10px;top:893.42px;letter-spacing:25.20px">田中</span>
<span class="n" style="left:251.70px;top:893.42px;letter-spacing:23.90px">孔貴</span>
<span class="n p" style="left:308.7px;top:893.1px">(</span>
<span class="n" style="left:328.01px;top:893.42px;letter-spacing:12.01px">自治医科大学</span>
<span class="n p" style="left:484.5px;top:893.1px">)</span>
<span class="n num" style="left:132.6px;top:934.3px">269</span>
<span class="n" style="left:162.10px;top:934.64px;letter-spacing:25.20px">野呂</span>
<span class="n" style="left:251.70px;top:934.64px;letter-spacing:23.90px">邦彦</span>
<span class="n p" style="left:308.7px;top:934.3px">(</span>
<span class="n" style="left:338.66px;top:934.64px;letter-spacing:22.66px">筑波大学</span>
<span class="n p" style="left:484.5px;top:934.3px">)</span>
<span class="n num" style="left:132.6px;top:975.6px">270</span>
<span class="n" style="left:162.10px;top:975.85px;letter-spacing:25.20px">矢崎</span>
<span class="n" style="left:251.70px;top:975.85px;letter-spacing:23.90px">和大</span>
<span class="n p" style="left:308.7px;top:975.6px">(</span>
<span class="n" style="left:338.66px;top:975.85px;letter-spacing:22.66px">秋田大学</span>
<span class="n p" style="left:484.5px;top:975.6px">)</span>
<span class="n num" style="left:132.6px;top:1016.8px">271</span>
<span class="n" style="left:162.10px;top:1017.07px;letter-spacing:25.20px">加藤</span>
<span class="n" style="left:251.70px;top:1017.07px;letter-spacing:23.90px">聡太</span>
<span class="n p" style="left:308.7px;top:1016.8px">(</span>
<span class="n" style="left:338.66px;top:1017.07px;letter-spacing:22.66px">杏林大学</span>
<span class="n p" style="left:484.5px;top:1016.8px">)</span>
<span class="n num" style="left:132.6px;top:1058.0px">272</span>
<span class="n" style="left:162.10px;top:1058.28px;letter-spacing:28.10px">桑木竣平</span>
<span class="n p" style="left:308.7px;top:1058.0px">(</span>
<span class="n" style="left:324.69px;top:1058.28px;letter-spacing:8.69px">防衛医科大学校</span>
<span class="n p" style="left:484.5px;top:1058.0px">)</span>
<span class="n num" style="left:132.6px;top:1099.2px">273</span>
<span class="n" style="left:162.10px;top:1099.49px;letter-spacing:44.20px">檜山</span>
<span class="n" style="left:290.20px;top:1099.49px;letter-spacing:44.20px">鴻</span>
<span class="n p" style="left:308.7px;top:1099.2px">(</span>
<span class="n" style="left:338.66px;top:1099.49px;letter-spacing:22.66px">弘前大学</span>
<span class="n p" style="left:484.5px;top:1099.2px">)</span>
<span class="n num" style="left:132.6px;top:1140.4px">274</span>
<span class="n" style="left:162.10px;top:1140.71px;letter-spacing:25.20px">小島</span>
<span class="n" style="left:251.70px;top:1140.71px;letter-spacing:23.90px">祥文</span>
<span class="n p" style="left:308.7px;top:1140.4px">(</span>
<span class="n" style="left:338.66px;top:1140.71px;letter-spacing:22.66px">信州大学</span>
<span class="n p" style="left:484.5px;top:1140.4px">)</span>
<span class="n num" style="left:132.6px;top:1181.6px">275</span>
<span class="n" style="left:162.10px;top:1181.92px;letter-spacing:25.20px">近藤</span>
<span class="n" style="left:251.70px;top:1181.92px;letter-spacing:23.90px">英太</span>
<span class="n p" style="left:308.7px;top:1181.6px">(</span>
<span class="n" style="left:338.66px;top:1181.92px;letter-spacing:22.66px">北里大学</span>
<span class="n p" style="left:484.5px;top:1181.6px">)</span>
<span class="n num" style="left:132.6px;top:1222.8px">276</span>
<span class="n" style="left:162.10px;top:1223.14px;letter-spacing:25.20px">井上</span>
<span class="n" style="left:251.70px;top:1223.14px;letter-spacing:23.90px">拓也</span>
<span class="n p" style="left:308.7px;top:1222.8px">(</span>
<span class="n" style="left:322.10px;top:1223.14px;letter-spacing:6.10px">福島県立医科大学</span>
<span class="n p" style="left:484.5px;top:1222.8px">)</span>
<span class="n num" style="left:132.6px;top:1264.0px">277</span>
<span class="n" style="left:162.10px;top:1264.35px;letter-spacing:25.20px">寺山</span>
<span class="n" style="left:251.70px;top:1264.35px;letter-spacing:23.90px">泰輔</span>
<span class="n p" style="left:308.7px;top:1264.0px">(</span>
<span class="n" style="left:320.03px;top:1264.35px;letter-spacing:4.03px">東京慈恵会医科大学</span>
<span class="n p" style="left:484.5px;top:1264.0px">)</span>
<span class="n num" style="left:132.6px;top:1305.3px">278</span>
<span class="n" style="left:162.10px;top:1305.56px;letter-spacing:25.20px">齋能</span>
<span class="n" style="left:251.70px;top:1305.56px;letter-spacing:23.90px">和輝</span>
<span class="n p" style="left:308.7px;top:1305.3px">(</span>
<span class="n" style="left:328.01px;top:1305.56px;letter-spacing:12.01px">日本医科大学</span>
<span class="n p" style="left:484.5px;top:1305.3px">)</span>
<span class="n num" style="left:132.6px;top:1346.5px">279</span>
<span class="n" style="left:162.10px;top:1346.78px;letter-spacing:25.20px">中村</span>
<span class="n" style="left:251.70px;top:1346.78px;letter-spacing:23.90px">恒星</span>
<span class="n p" style="left:308.7px;top:1346.5px">(</span>
<span class="n" style="left:332.45px;top:1346.78px;letter-spacing:16.45px">北海道大学</span>
<span class="n p" style="left:484.5px;top:1346.5px">)</span>
<span class="n num" style="left:132.6px;top:1387.7px">280</span>
<span class="n" style="left:162.10px;top:1387.99px;letter-spacing:25.20px">清水</span>
<span class="n" style="left:251.70px;top:1387.99px;letter-spacing:23.90px">雄也</span>
<span class="n p" style="left:308.7px;top:1387.7px">(</span>
<span class="n" style="left:338.66px;top:1387.99px;letter-spacing:22.66px">山梨大学</span>
<span class="n p" style="left:484.5px;top:1387.7px">)</span>
<span class="n num" style="left:132.6px;top:1428.9px">281</span>
<span class="n" style="left:162.10px;top:1429.21px;letter-spacing:44.20px">有本</span>
<span class="n" style="left:290.20px;top:1429.21px;letter-spacing:44.20px">惇</span>
<span class="n p" style="left:308.7px;top:1428.9px">(</span>
<span class="n" style="left:328.01px;top:1429.21px;letter-spacing:12.01px">慶應義塾大学</span>
<span class="n p" style="left:484.5px;top:1428.9px">)</span>
<span class="n num" style="left:132.6px;top:1470.1px">282</span>
<span class="n" style="left:162.10px;top:1470.42px;letter-spacing:44.20px">鈴木</span>
<span class="n" style="left:290.20px;top:1470.42px;letter-spacing:44.20px">理</span>
<span class="n p" style="left:308.7px;top:1470.1px">(</span>
<span class="n" style="left:328.01px;top:1470.42px;letter-spacing:12.01px">横浜市立大学</span>
<span class="n p" style="left:484.5px;top:1470.1px">)</span>
<span class="n num" style="left:132.6px;top:1511.3px">283</span>
<span class="n" style="left:162.10px;top:1511.63px;letter-spacing:25.20px">橋目</span>
<span class="n" style="left:251.70px;top:1511.63px;letter-spacing:23.90px">俊輝</span>
<span class="n p" style="left:308.7px;top:1511.3px">(</span>
<span class="n" style="left:338.66px;top:1511.63px;letter-spacing:22.66px">東北大学</span>
<span class="n p" style="left:484.5px;top:1511.3px">)</span>
<span class="n num" style="left:132.6px;top:1552.5px">284</span>
<span class="n" style="left:162.10px;top:1552.85px;letter-spacing:44.20px">松島</span>
<span class="n" style="left:290.20px;top:1552.85px;letter-spacing:44.20px">滉</span>
<span class="n p" style="left:308.7px;top:1552.5px">(</span>
<span class="n" style="left:338.66px;top:1552.85px;letter-spacing:22.66px">新潟大学</span>
<span class="n p" style="left:484.5px;top:1552.5px">)</span>
<span class="n num" style="left:132.6px;top:1593.8px">285</span>
<span class="n" style="left:162.10px;top:1594.06px;letter-spacing:25.20px">豊田</span>
<span class="n" style="left:251.70px;top:1594.06px;letter-spacing:23.90px">卓弥</span>
<span class="n p" style="left:308.7px;top:1593.8px">(</span>
<span class="n" style="left:338.66px;top:1594.06px;letter-spacing:22.66px">日本大学</span>
<span class="n p" style="left:484.5px;top:1593.8px">)</span>
<span class="n num" style="left:132.6px;top:1635.0px">286</span>
<span class="n" style="left:162.10px;top:1635.28px;letter-spacing:25.20px">中山</span>
<span class="n" style="left:251.70px;top:1635.28px;letter-spacing:23.90px">大輔</span>
<span class="n p" style="left:308.7px;top:1635.0px">(</span>
<span class="n" style="left:322.10px;top:1635.28px;letter-spacing:6.10px">東京医科歯科大学</span>
<span class="n p" style="left:484.5px;top:1635.0px">)</span>
<span class="n num" style="left:132.6px;top:1676.2px">287</span>
<span class="n" style="left:162.10px;top:1676.49px;letter-spacing:25.20px">佐藤</span>
<span class="n" style="left:251.70px;top:1676.49px;letter-spacing:23.90px">卓弥</span>
<span class="n p" style="left:308.7px;top:1676.2px">(</span>
<span class="n" style="left:322.10px;top:1676.49px;letter-spacing:6.10px">国際医療福祉大学</span>
<span class="n p" style="left:484.5px;top:1676.2px">)</span>
<span class="n num" style="left:132.6px;top:1717.4px">288</span>
<span class="n" style="left:162.10px;top:1717.70px;letter-spacing:25.20px">大谷</span>
<span class="n" style="left:251.70px;top:1717.70px;letter-spacing:23.90px">祐介</span>
<span class="n p" style="left:308.7px;top:1717.4px">(</span>
<span class="n" style="left:338.66px;top:1717.70px;letter-spacing:22.66px">千葉大学</span>
<span class="n p" style="left:484.5px;top:1717.4px">)</span>
<span class="n num" style="left:132.6px;top:1758.6px">289</span>
<span class="n" style="left:162.10px;top:1758.92px;letter-spacing:25.20px">西山</span>
<span class="n" style="left:251.70px;top:1758.92px;letter-spacing:23.90px">孟尭</span>
<span class="n p" style="left:308.7px;top:1758.6px">(</span>
<span class="n" style="left:338.66px;top:1758.92px;letter-spacing:22.66px">帝京大学</span>
<span class="n p" style="left:484.5px;top:1758.6px">)</span>
<span class="n num" style="left:132.6px;top:1799.8px">290</span>
<span class="n" style="left:162.10px;top:1800.13px;letter-spacing:14.80px">加治屋</span>
<span class="n" style="left:260.80px;top:1800.13px;letter-spacing:14.80px">駿平</span>
<span class="n p" style="left:308.7px;top:1799.8px">(</span>
<span class="n" style="left:332.45px;top:1800.13px;letter-spacing:16.45px">順天堂大学</span>
<span class="n p" style="left:484.5px;top:1799.8px">)</span>
<span class="n num" style="left:132.6px;top:1841.0px">291</span>
<span class="n" style="left:162.10px;top:1841.35px;letter-spacing:25.20px">宮崎</span>
<span class="n" style="left:251.70px;top:1841.35px;letter-spacing:23.90px">航佑</span>
<span class="n p" style="left:308.7px;top:1841.0px">(</span>
<span class="n" style="left:328.01px;top:1841.35px;letter-spacing:12.01px">旭川医科大学</span>
<span class="n p" style="left:484.5px;top:1841.0px">)</span>
<span class="n num" style="left:132.6px;top:1882.3px">292</span>
<span class="n" style="left:162.10px;top:1882.56px;letter-spacing:25.20px">口羽</span>
<span class="n" style="left:251.70px;top:1882.56px;letter-spacing:23.90px">浩之</span>
<span class="n p" style="left:308.7px;top:1882.3px">(</span>
<span class="n" style="left:320.03px;top:1882.56px;letter-spacing:4.03px">東京慈恵会医科大学</span>
<span class="n p" style="left:484.5px;top:1882.3px">)</span>
<span class="n num" style="left:132.6px;top:1923.5px">293</span>
<span class="n" style="left:162.10px;top:1923.77px;letter-spacing:25.20px">菅野</span>
<span class="n" style="left:251.70px;top:1923.77px;letter-spacing:23.90px">寛之</span>
<span class="n p" style="left:308.7px;top:1923.5px">(</span>
<span class="n" style="left:338.66px;top:1923.77px;letter-spacing:22.66px">杏林大学</span>
<span class="n p" style="left:484.5px;top:1923.5px">)</span>
<span class="n" style="left:1158.70px;top:234.00px;letter-spacing:25.20px">石野</span>
<span class="n" style="left:1248.30px;top:234.00px;letter-spacing:23.90px">起也</span>
<span class="n p" style="left:1305.5px;top:233.7px">(</span>
<span class="n" style="left:1335.46px;top:234.00px;letter-spacing:22.66px">東海大学</span>
<span class="n p" style="left:1481.3px;top:233.7px">)</span>
<span class="n num" style="left:1499.0px;top:233.7px">294</span>
<span class="n" style="left:1158.70px;top:275.21px;letter-spacing:44.20px">飛松</span>
<span class="n" style="left:1286.80px;top:275.21px;letter-spacing:44.20px">尭</span>
<span class="n p" style="left:1305.5px;top:274.9px">(</span>
<span class="n" style="left:1318.90px;top:275.21px;letter-spacing:6.10px">東京医科歯科大学</span>
<span class="n p" style="left:1481.3px;top:274.9px">)</span>
<span class="n num" style="left:1499.0px;top:274.9px">295</span>
<span class="n" style="left:1158.70px;top:316.43px;letter-spacing:14.80px">長田</span>
<span class="n" style="left:1228.00px;top:316.43px;letter-spacing:14.80px">虎二郎</span>
<span class="n p" style="left:1305.5px;top:316.1px">(</span>
<span class="n" style="left:1335.46px;top:316.43px;letter-spacing:22.66px">筑波大学</span>
<span class="n p" style="left:1481.3px;top:316.1px">)</span>
<span class="n num" style="left:1499.0px;top:316.1px">296</span>
<span class="n" style="left:1158.70px;top:357.64px;letter-spacing:25.20px">西山</span>
<span class="n" style="left:1248.30px;top:357.64px;letter-spacing:23.90px">颯人</span>
<span class="n p" style="left:1305.5px;top:357.3px">(</span>
<span class="n" style="left:1324.81px;top:357.64px;letter-spacing:12.01px">札幌医科大学</span>
<span class="n p" style="left:1481.3px;top:357.3px">)</span>
<span class="n num" style="left:1499.0px;top:357.3px">297</span>
<span class="n" style="left:1158.70px;top:398.86px;letter-spacing:25.20px">大槻</span>
<span class="n" style="left:1248.30px;top:398.86px;letter-spacing:23.90px">洸平</span>
<span class="n p" style="left:1305.5px;top:398.6px">(</span>
<span class="n" style="left:1335.46px;top:398.86px;letter-spacing:22.66px">東北大学</span>
<span class="n p" style="left:1481.3px;top:398.6px">)</span>
<span class="n num" style="left:1499.0px;top:398.6px">298</span>
<span class="n" style="left:1158.70px;top:440.07px;letter-spacing:14.80px">小団扇</span>
<span class="n" style="left:1257.40px;top:440.07px;letter-spacing:14.80px">嘉仁</span>
<span class="n p" style="left:1305.5px;top:439.8px">(</span>
<span class="n" style="left:1335.46px;top:440.07px;letter-spacing:22.66px">東京大学</span>
<span class="n p" style="left:1481.3px;top:439.8px">)</span>
<span class="n num" style="left:1499.0px;top:439.8px">299</span>
<span class="n" style="left:1158.70px;top:481.28px;letter-spacing:44.20px">上野</span>
<span class="n" style="left:1286.80px;top:481.28px;letter-spacing:44.20px">匠</span>
<span class="n p" style="left:1305.5px;top:481.0px">(</span>
<span class="n" style="left:1335.46px;top:481.28px;letter-spacing:22.66px">信州大学</span>
<span class="n p" style="left:1481.3px;top:481.0px">)</span>
<span class="n num" style="left:1499.0px;top:481.0px">300</span>
<span class="n" style="left:1158.70px;top:522.50px;letter-spacing:44.20px">吉田</span>
<span class="n" style="left:1286.80px;top:522.50px;letter-spacing:44.20px">匠</span>
<span class="n p" style="left:1305.5px;top:522.2px">(</span>
<span class="n" style="left:1324.81px;top:522.50px;letter-spacing:12.01px">日本医科大学</span>
<span class="n p" style="left:1481.3px;top:522.2px">)</span>
<span class="n num" style="left:1499.0px;top:522.2px">301</span>
<span class="n" style="left:1158.70px;top:563.71px;letter-spacing:25.20px">須波</span>
<span class="n" style="left:1248.30px;top:563.71px;letter-spacing:23.90px">尚貴</span>
<span class="n p" style="left:1305.5px;top:563.4px">(</span>
<span class="n" style="left:1324.81px;top:563.71px;letter-spacing:12.01px">獨協医科大学</span>
<span class="n p" style="left:1481.3px;top:563.4px">)</span>
<span class="n num" style="left:1499.0px;top:563.4px">302</span>
<span class="n" style="left:1158.70px;top:604.93px;letter-spacing:25.20px">安藤</span>
<span class="n" style="left:1248.30px;top:604.93px;letter-spacing:23.90px">宙和</span>
<span class="n p" style="left:1305.5px;top:604.6px">(</span>
<span class="n" style="left:1335.46px;top:604.93px;letter-spacing:22.66px">日本大学</span>
<span class="n p" style="left:1481.3px;top:604.6px">)</span>
<span class="n num" style="left:1499.0px;top:604.6px">303</span>
<span class="n" style="left:1158.70px;top:646.14px;letter-spacing:44.20px">角田</span>
<span class="n" style="left:1286.80px;top:646.14px;letter-spacing:44.20px">尊</span>
<span class="n p" style="left:1305.5px;top:645.8px">(</span>
<span class="n" style="left:1335.46px;top:646.14px;letter-spacing:22.66px">昭和大学</span>
<span class="n p" style="left:1481.3px;top:645.8px">)</span>
<span class="n num" style="left:1499.0px;top:645.8px">304</span>
<span class="n" style="left:1158.70px;top:687.35px;letter-spacing:24.60px">角</span>
<span class="n" style="left:1208.40px;top:687.35px;letter-spacing:24.60px">駿太朗</span>
<span class="n p" style="left:1305.5px;top:687.1px">(</span>
<span class="n" style="left:1324.81px;top:687.35px;letter-spacing:12.01px">慶應義塾大学</span>
<span class="n p" style="left:1481.3px;top:687.1px">)</span>
<span class="n num" style="left:1499.0px;top:687.1px">305</span>
<span class="n" style="left:1158.70px;top:728.57px;letter-spacing:25.20px">丸田</span>
<span class="n" style="left:1248.30px;top:728.57px;letter-spacing:23.90px">俊介</span>
<span class="n p" style="left:1305.5px;top:728.3px">(</span>
<span class="n" style="left:1335.46px;top:728.57px;letter-spacing:22.66px">東海大学</span>
<span class="n p" style="left:1481.3px;top:728.3px">)</span>
<span class="n num" style="left:1499.0px;top:728.3px">306</span>
<span class="n" style="left:1158.70px;top:769.78px;letter-spacing:25.20px">小林</span>
<span class="n" style="left:1248.30px;top:769.78px;letter-spacing:23.90px">航平</span>
<span class="n p" style="left:1305.5px;top:769.5px">(</span>
<span class="n" style="left:1335.46px;top:769.78px;letter-spacing:22.66px">山梨大学</span>
<span class="n p" style="left:1481.3px;top:769.5px">)</span>
<span class="n num" style="left:1499.0px;top:769.5px">307</span>
<span class="n" style="left:1158.70px;top:811.00px;letter-spacing:25.20px">中野</span>
<span class="n" style="left:1248.30px;top:811.00px;letter-spacing:23.90px">雄貴</span>
<span class="n p" style="left:1305.5px;top:810.7px">(</span>
<span class="n" style="left:1335.46px;top:811.00px;letter-spacing:22.66px">秋田大学</span>
<span class="n p" style="left:1481.3px;top:810.7px">)</span>
<span class="n num" style="left:1499.0px;top:810.7px">308</span>
<span class="n" style="left:1158.70px;top:852.21px;letter-spacing:25.20px">板垣</span>
<span class="n" style="left:1248.30px;top:852.21px;letter-spacing:23.90px">智也</span>
<span class="n p" style="left:1305.5px;top:851.9px">(</span>
<span class="n" style="left:1335.46px;top:852.21px;letter-spacing:22.66px">新潟大学</span>
<span class="n p" style="left:1481.3px;top:851.9px">)</span>
<span class="n num" style="left:1499.0px;top:851.9px">309</span>
<span class="n" style="left:1158.70px;top:893.42px;letter-spacing:44.20px">田川</span>
<span class="n" style="left:1286.80px;top:893.42px;letter-spacing:44.20px">健</span>
<span class="n p" style="left:1305.5px;top:893.1px">(</span>
<span class="n" style="left:1335.46px;top:893.42px;letter-spacing:22.66px">北里大学</span>
<span class="n p" style="left:1481.3px;top:893.1px">)</span>
<span class="n num" style="left:1499.0px;top:893.1px">310</span>
<span class="n" style="left:1158.70px;top:934.64px;letter-spacing:25.20px">津本</span>
<span class="n" style="left:1248.30px;top:934.64px;letter-spacing:23.90px">圭佑</span>
<span class="n p" style="left:1305.5px;top:934.3px">(</span>
<span class="n" style="left:1324.81px;top:934.64px;letter-spacing:12.01px">自治医科大学</span>
<span class="n p" style="left:1481.3px;top:934.3px">)</span>
<span class="n num" style="left:1499.0px;top:934.3px">311</span>
<span class="n" style="left:1158.70px;top:975.85px;letter-spacing:25.20px">柴尾</span>
<span class="n" style="left:1248.30px;top:975.85px;letter-spacing:23.90px">喬志</span>
<span class="n p" style="left:1305.5px;top:975.6px">(</span>
<span class="n" style="left:1324.81px;top:975.85px;letter-spacing:12.01px">横浜市立大学</span>
<span class="n p" style="left:1481.3px;top:975.6px">)</span>
<span class="n num" style="left:1499.0px;top:975.6px">312</span>
<span class="n" style="left:1158.70px;top:1017.07px;letter-spacing:44.20px">山口</span>
<span class="n" style="left:1286.80px;top:1017.07px;letter-spacing:44.20px">翔</span>
<span class="n p" style="left:1305.5px;top:1016.8px">(</span>
<span class="n" style="left:1329.25px;top:1017.07px;letter-spacing:16.45px">北海道大学</span>
<span class="n p" style="left:1481.3px;top:1016.8px">)</span>
<span class="n num" style="left:1499.0px;top:1016.8px">313</span>
<span class="n" style="left:1158.70px;top:1058.28px;letter-spacing:25.20px">峯川</span>
<span class="n" style="left:1248.30px;top:1058.28px;letter-spacing:23.90px">耕平</span>
<span class="n p" style="left:1305.5px;top:1058.0px">(</span>
<span class="n" style="left:1316.83px;top:1058.28px;letter-spacing:4.03px">東京慈恵会医科大学</span>
<span class="n p" style="left:1481.3px;top:1058.0px">)</span>
<span class="n num" style="left:1499.0px;top:1058.0px">314</span>
<span class="n" style="left:1158.70px;top:1099.49px;letter-spacing:25.20px">市川</span>
<span class="n" style="left:1248.30px;top:1099.49px;letter-spacing:23.90px">恒喜</span>
<span class="n p" style="left:1305.5px;top:1099.2px">(</span>
<span class="n" style="left:1324.81px;top:1099.49px;letter-spacing:12.01px">自治医科大学</span>
<span class="n p" style="left:1481.3px;top:1099.2px">)</span>
<span class="n num" style="left:1499.0px;top:1099.2px">315</span>
<span class="n s13" style="left:1159.40px;top:1141.31px;letter-spacing:5.60px">西園</span>
<span class="n s13" style="left:1207.20px;top:1141.31px;letter-spacing:2.64px">ジュリアン海</span>
<span class="n p" style="left:1305.5px;top:1140.4px">(</span>
<span class="n" style="left:1318.90px;top:1140.71px;letter-spacing:6.10px">国際医療福祉大学</span>
<span class="n p" style="left:1481.3px;top:1140.4px">)</span>
<span class="n num" style="left:1499.0px;top:1140.4px">316</span>
<span class="n" style="left:1158.70px;top:1181.92px;letter-spacing:25.20px">永山</span>
<span class="n" style="left:1248.30px;top:1181.92px;letter-spacing:23.90px">寛幾</span>
<span class="n p" style="left:1305.5px;top:1181.6px">(</span>
<span class="n" style="left:1335.46px;top:1181.92px;letter-spacing:22.66px">帝京大学</span>
<span class="n p" style="left:1481.3px;top:1181.6px">)</span>
<span class="n num" style="left:1499.0px;top:1181.6px">317</span>
<span class="n" style="left:1158.70px;top:1223.14px;letter-spacing:25.20px">原口</span>
<span class="n" style="left:1248.30px;top:1223.14px;letter-spacing:23.90px">雅貴</span>
<span class="n p" style="left:1305.5px;top:1222.8px">(</span>
<span class="n" style="left:1335.46px;top:1223.14px;letter-spacing:22.66px">山梨大学</span>
<span class="n p" style="left:1481.3px;top:1222.8px">)</span>
<span class="n num" style="left:1499.0px;top:1222.8px">318</span>
<span class="n" style="left:1158.70px;top:1264.35px;letter-spacing:25.20px">野内</span>
<span class="n" style="left:1248.30px;top:1264.35px;letter-spacing:23.90px">拓海</span>
<span class="n p" style="left:1305.5px;top:1264.0px">(</span>
<span class="n" style="left:1335.46px;top:1264.35px;letter-spacing:22.66px">東北大学</span>
<span class="n p" style="left:1481.3px;top:1264.0px">)</span>
<span class="n num" style="left:1499.0px;top:1264.0px">319</span>
<span class="n" style="left:1158.70px;top:1305.56px;letter-spacing:14.80px">宮下</span>
<span class="n" style="left:1228.00px;top:1305.56px;letter-spacing:14.80px">裕一郎</span>
<span class="n p" style="left:1305.5px;top:1305.3px">(</span>
<span class="n" style="left:1335.46px;top:1305.56px;letter-spacing:22.66px">筑波大学</span>
<span class="n p" style="left:1481.3px;top:1305.3px">)</span>
<span class="n num" style="left:1499.0px;top:1305.3px">320</span>
<span class="n" style="left:1158.70px;top:1346.78px;letter-spacing:44.20px">張</span>
<span class="n" style="left:1228.00px;top:1346.78px;letter-spacing:44.20px">一弛</span>
<span class="n p" style="left:1305.5px;top:1346.5px">(</span>
<span class="n" style="left:1324.81px;top:1346.78px;letter-spacing:12.01px">慶應義塾大学</span>
<span class="n p" style="left:1481.3px;top:1346.5px">)</span>
<span class="n num" style="left:1499.0px;top:1346.5px">321</span>
<span class="n" style="left:1158.70px;top:1387.99px;letter-spacing:25.20px">立石</span>
<span class="n" style="left:1248.30px;top:1387.99px;letter-spacing:23.90px">翔馬</span>
<span class="n p" style="left:1305.5px;top:1387.7px">(</span>
<span class="n" style="left:1324.81px;top:1387.99px;letter-spacing:12.01px">旭川医科大学</span>
<span class="n p" style="left:1481.3px;top:1387.7px">)</span>
<span class="n num" style="left:1499.0px;top:1387.7px">322</span>
<span class="n" style="left:1158.70px;top:1429.21px;letter-spacing:28.10px">鈴木健太</span>
<span class="n p" style="left:1305.5px;top:1428.9px">(</span>
<span class="n" style="left:1321.49px;top:1429.21px;letter-spacing:8.69px">防衛医科大学校</span>
<span class="n p" style="left:1481.3px;top:1428.9px">)</span>
<span class="n num" style="left:1499.0px;top:1428.9px">323</span>
<span class="n" style="left:1158.70px;top:1470.42px;letter-spacing:44.20px">持田</span>
<span class="n" style="left:1286.80px;top:1470.42px;letter-spacing:44.20px">崇</span>
<span class="n p" style="left:1305.5px;top:1470.1px">(</span>
<span class="n" style="left:1335.46px;top:1470.42px;letter-spacing:22.66px">東北大学</span>
<span class="n p" style="left:1481.3px;top:1470.1px">)</span>
<span class="n num" style="left:1499.0px;top:1470.1px">324</span>
<span class="n" style="left:1158.70px;top:1511.63px;letter-spacing:25.20px">西村</span>
<span class="n" style="left:1248.30px;top:1511.63px;letter-spacing:23.90px">謙吾</span>
<span class="n p" style="left:1305.5px;top:1511.3px">(</span>
<span class="n" style="left:1335.46px;top:1511.63px;letter-spacing:22.66px">東邦大学</span>
<span class="n p" style="left:1481.3px;top:1511.3px">)</span>
<span class="n num" style="left:1499.0px;top:1511.3px">325</span>
<span class="n" style="left:1158.70px;top:1552.85px;letter-spacing:25.20px">田中</span>
<span class="n" style="left:1248.30px;top:1552.85px;letter-spacing:23.90px">智秀</span>
<span class="n p" style="left:1305.5px;top:1552.5px">(</span>
<span class="n" style="left:1335.46px;top:1552.85px;letter-spacing:22.66px">信州大学</span>
<span class="n p" style="left:1481.3px;top:1552.5px">)</span>
<span class="n num" style="left:1499.0px;top:1552.5px">326</span>
<span class="n" style="left:1158.70px;top:1594.06px;letter-spacing:14.80px">和泉</span>
<span class="n" style="left:1228.00px;top:1594.06px;letter-spacing:14.80px">龍之介</span>
<span class="n p" style="left:1305.5px;top:1593.8px">(</span>
<span class="n" style="left:1318.90px;top:1594.06px;letter-spacing:6.10px">東北医科薬科大学</span>
<span class="n p" style="left:1481.3px;top:1593.8px">)</span>
<span class="n num" style="left:1499.0px;top:1593.8px">327</span>
<span class="n" style="left:1158.70px;top:1635.28px;letter-spacing:25.20px">山田</span>
<span class="n" style="left:1248.30px;top:1635.28px;letter-spacing:23.90px">大貴</span>
<span class="n p" style="left:1305.5px;top:1635.0px">(</span>
<span class="n" style="left:1324.81px;top:1635.28px;letter-spacing:12.01px">東京医科大学</span>
<span class="n p" style="left:1481.3px;top:1635.0px">)</span>
<span class="n num" style="left:1499.0px;top:1635.0px">328</span>
<span class="n" style="left:1158.70px;top:1676.49px;letter-spacing:14.80px">森田</span>
<span class="n" style="left:1228.00px;top:1676.49px;letter-spacing:14.80px">宗一郎</span>
<span class="n p" style="left:1305.5px;top:1676.2px">(</span>
<span class="n" style="left:1335.46px;top:1676.49px;letter-spacing:22.66px">杏林大学</span>
<span class="n p" style="left:1481.3px;top:1676.2px">)</span>
<span class="n num" style="left:1499.0px;top:1676.2px">329</span>
<span class="n" style="left:1158.70px;top:1717.70px;letter-spacing:25.20px">前田</span>
<span class="n" style="left:1248.30px;top:1717.70px;letter-spacing:23.90px">颯生</span>
<span class="n p" style="left:1305.5px;top:1717.4px">(</span>
<span class="n" style="left:1335.46px;top:1717.70px;letter-spacing:22.66px">筑波大学</span>
<span class="n p" style="left:1481.3px;top:1717.4px">)</span>
<span class="n num" style="left:1499.0px;top:1717.4px">330</span>
<span class="n" style="left:1158.70px;top:1758.92px;letter-spacing:44.20px">坂本</span>
<span class="n" style="left:1286.80px;top:1758.92px;letter-spacing:44.20px">秀</span>
<span class="n p" style="left:1305.5px;top:1758.6px">(</span>
<span class="n" style="left:1335.46px;top:1758.92px;letter-spacing:22.66px">秋田大学</span>
<span class="n p" style="left:1481.3px;top:1758.6px">)</span>
<span class="n num" style="left:1499.0px;top:1758.6px">331</span>
<span class="n" style="left:1158.70px;top:1800.13px;letter-spacing:25.20px">武川</span>
<span class="n" style="left:1248.30px;top:1800.13px;letter-spacing:23.90px">秀基</span>
<span class="n p" style="left:1305.5px;top:1799.8px">(</span>
<span class="n" style="left:1318.90px;top:1800.13px;letter-spacing:6.10px">福島県立医科大学</span>
<span class="n p" style="left:1481.3px;top:1799.8px">)</span>
<span class="n num" style="left:1499.0px;top:1799.8px">332</span>
<span class="n" style="left:1158.70px;top:1841.35px;letter-spacing:44.20px">渡部</span>
<span class="n" style="left:1286.80px;top:1841.35px;letter-spacing:44.20px">裕</span>
<span class="n p" style="left:1305.5px;top:1841.0px">(</span>
<span class="n" style="left:1335.46px;top:1841.35px;letter-spacing:22.66px">千葉大学</span>
<span class="n p" style="left:1481.3px;top:1841.0px">)</span>
<span class="n num" style="left:1499.0px;top:1841.0px">333</span>
<span class="n" style="left:1158.70px;top:1882.56px;letter-spacing:25.20px">紺野</span>
<span class="n" style="left:1248.30px;top:1882.56px;letter-spacing:23.90px">雄大</span>
<span class="n p" style="left:1305.5px;top:1882.3px">(</span>
<span class="n" style="left:1335.46px;top:1882.56px;letter-spacing:22.66px">山形大学</span>
<span class="n p" style="left:1481.3px;top:1882.3px">)</span>
<span class="n num" style="left:1499.0px;top:1882.3px">334</span>
<span class="sc" style="left:551.0px;top:293.3px">0</span>
<span class="sc" style="left:551.0px;top:312.2px">2</span>
<span class="sc" style="left:551.0px;top:499.4px">0</span>
<span class="sc" style="left:551.0px;top:518.3px">2</span>
<span class="sc" style="left:551.0px;top:581.8px">2</span>
<span class="sc" style="left:551.0px;top:600.7px">1</span>
<span class="sc" style="left:551.0px;top:746.7px">0</span>
<span class="sc" style="left:551.0px;top:765.6px">2</span>
<span class="sc" style="left:551.0px;top:994.0px">0</span>
<span class="sc" style="left:551.0px;top:1012.9px">2</span>
<span class="sc" style="left:551.0px;top:1158.8px">2</span>
<span class="sc" style="left:551.0px;top:1177.7px">0</span>
<span class="sc" style="left:551.0px;top:1406.1px">2</span>
<span class="sc" style="left:551.0px;top:1425.0px">0</span>
<span class="sc" style="left:551.0px;top:1570.9px">0</span>
<span class="sc" style="left:551.0px;top:1589.9px">2</span>
<span class="sc ki" style="left:551.0px;top:1672.3px">ｷ</span>
<span class="sc" style="left:551.0px;top:1859.4px">2</span>
<span class="sc" style="left:551.0px;top:1878.4px">1</span>
<span class="sc" style="left:598.1px;top:252.1px">2</span>
<span class="sc" style="left:598.1px;top:291.6px">0</span>
<span class="sc" style="left:598.1px;top:375.7px">1</span>
<span class="sc" style="left:598.1px;top:394.7px">2</span>
<span class="sc" style="left:598.1px;top:458.2px">2</span>
<span class="sc" style="left:598.1px;top:497.7px">0</span>
<span class="sc" style="left:598.1px;top:602.4px">0</span>
<span class="sc" style="left:598.1px;top:641.9px">2</span>
<span class="sc" style="left:598.1px;top:705.5px">2</span>
<span class="sc" style="left:598.1px;top:745.0px">0</span>
<span class="sc" style="left:598.1px;top:829.1px">0</span>
<span class="sc" style="left:598.1px;top:848.0px">2</span>
<span class="sc" style="left:598.1px;top:911.5px">2</span>
<span class="sc" style="left:598.1px;top:930.4px">0</span>
<span class="sc" style="left:598.1px;top:1014.6px">0</span>
<span class="sc" style="left:598.1px;top:1054.1px">2</span>
<span class="sc" style="left:598.1px;top:1117.6px">2</span>
<span class="sc" style="left:598.1px;top:1157.1px">1</span>
<span class="sc" style="left:598.1px;top:1241.2px">0</span>
<span class="sc" style="left:598.1px;top:1260.1px">2</span>
<span class="sc" style="left:598.1px;top:1323.7px">0</span>
<span class="sc" style="left:598.1px;top:1342.6px">2</span>
<span class="sc" style="left:598.1px;top:1426.7px">0</span>
<span class="sc" style="left:598.1px;top:1466.2px">2</span>
<span class="sc" style="left:598.1px;top:1529.7px">2</span>
<span class="sc" style="left:598.1px;top:1569.3px">0</span>
<span class="sc" style="left:598.1px;top:1674.0px">0</span>
<span class="sc" style="left:598.1px;top:1713.5px">2</span>
<span class="sc" style="left:598.1px;top:1777.0px">0</span>
<span class="sc" style="left:598.1px;top:1795.9px">2</span>
<span class="sc" style="left:598.1px;top:1880.1px">0</span>
<span class="sc" style="left:598.1px;top:1919.6px">2</span>
<span class="sc" style="left:645.3px;top:272.7px">2</span>
<span class="sc" style="left:645.3px;top:374.0px">1</span>
<span class="sc" style="left:645.3px;top:478.8px">0</span>
<span class="sc" style="left:645.3px;top:621.3px">2</span>
<span class="sc" style="left:645.3px;top:726.1px">2</span>
<span class="sc" style="left:645.3px;top:827.4px">1</span>
<span class="sc" style="left:645.3px;top:932.1px">0</span>
<span class="sc" style="left:645.3px;top:1033.5px">2</span>
<span class="sc" style="left:645.3px;top:1138.2px">2</span>
<span class="sc" style="left:645.3px;top:1239.5px">0</span>
<span class="sc" style="left:645.3px;top:1344.3px">1</span>
<span class="sc" style="left:645.3px;top:1445.6px">2</span>
<span class="sc" style="left:645.3px;top:1550.3px">2</span>
<span class="sc" style="left:645.3px;top:1692.9px">1</span>
<span class="sc" style="left:645.3px;top:1797.6px">0</span>
<span class="sc" style="left:645.3px;top:1899.0px">2</span>
<span class="sc" style="left:692.5px;top:334.5px">2</span>
<span class="sc" style="left:692.5px;top:538.9px">0</span>
<span class="sc" style="left:692.5px;top:787.9px">0</span>
<span class="sc" style="left:692.5px;top:971.7px">2</span>
<span class="sc" style="left:692.5px;top:1200.0px">1</span>
<span class="sc" style="left:692.5px;top:1383.8px">2</span>
<span class="sc" style="left:692.5px;top:1632.8px">1</span>
<span class="sc" style="left:692.5px;top:1837.1px">2</span>
<span class="sc" style="left:739.6px;top:437.6px">0</span>
<span class="sc" style="left:739.6px;top:868.6px">2</span>
<span class="sc" style="left:739.6px;top:1303.1px">0</span>
<span class="sc" style="left:739.6px;top:1734.1px">2</span>
<span class="sc" style="left:786.8px;top:664.2px">1</span>
<span class="sc" style="left:786.8px;top:1507.4px">2</span>
<span class="sc scr ki" style="right:554.8px;top:293.3px">ｷ</span>
<span class="sc scr" style="right:554.8px;top:540.6px">2</span>
<span class="sc scr" style="right:554.8px;top:559.5px">1</span>
<span class="sc scr" style="right:554.8px;top:705.5px">0</span>
<span class="sc scr" style="right:554.8px;top:724.4px">2</span>
<span class="sc scr" style="right:554.8px;top:952.7px">2</span>
<span class="sc scr" style="right:554.8px;top:971.7px">0</span>
<span class="sc scr" style="right:554.8px;top:1117.6px">2</span>
<span class="sc scr" style="right:554.8px;top:1136.5px">0</span>
<span class="sc scr" style="right:554.8px;top:1364.9px">2</span>
<span class="sc scr" style="right:554.8px;top:1383.8px">0</span>
<span class="sc scr" style="right:554.8px;top:1529.7px">2</span>
<span class="sc scr" style="right:554.8px;top:1548.6px">1</span>
<span class="sc scr" style="right:554.8px;top:1612.2px">2</span>
<span class="sc scr" style="right:554.8px;top:1631.1px">0</span>
<span class="sc scr" style="right:554.8px;top:1818.2px">2</span>
<span class="sc scr" style="right:554.8px;top:1837.1px">1</span>
<span class="sc scr" style="right:601.9px;top:252.1px">2</span>
<span class="sc scr" style="right:601.9px;top:291.6px">0</span>
<span class="sc scr" style="right:601.9px;top:375.7px">0</span>
<span class="sc scr" style="right:601.9px;top:394.7px">2</span>
<span class="sc scr" style="right:601.9px;top:458.2px">2</span>
<span class="sc scr" style="right:601.9px;top:477.1px">0</span>
<span class="sc scr" style="right:601.9px;top:561.2px">0</span>
<span class="sc scr" style="right:601.9px;top:600.7px">2</span>
<span class="sc scr" style="right:601.9px;top:664.2px">2</span>
<span class="sc scr" style="right:601.9px;top:703.8px">0</span>
<span class="sc scr" style="right:601.9px;top:787.9px">0</span>
<span class="sc scr" style="right:601.9px;top:806.8px">2</span>
<span class="sc scr" style="right:601.9px;top:870.3px">2</span>
<span class="sc scr" style="right:601.9px;top:889.2px">0</span>
<span class="sc scr" style="right:601.9px;top:973.3px">0</span>
<span class="sc scr" style="right:601.9px;top:1012.9px">2</span>
<span class="sc scr" style="right:601.9px;top:1076.4px">2</span>
<span class="sc scr" style="right:601.9px;top:1115.9px">0</span>
<span class="sc scr" style="right:601.9px;top:1200.0px">0</span>
<span class="sc scr" style="right:601.9px;top:1218.9px">2</span>
<span class="sc scr" style="right:601.9px;top:1282.5px">2</span>
<span class="sc scr" style="right:601.9px;top:1301.4px">1</span>
<span class="sc scr" style="right:601.9px;top:1385.5px">0</span>
<span class="sc scr" style="right:601.9px;top:1425.0px">2</span>
<span class="sc scr" style="right:601.9px;top:1488.5px">2</span>
<span class="sc scr" style="right:601.9px;top:1528.0px">0</span>
<span class="sc scr" style="right:601.9px;top:1632.8px">0</span>
<span class="sc scr" style="right:601.9px;top:1672.3px">2</span>
<span class="sc scr" style="right:601.9px;top:1735.8px">2</span>
<span class="sc scr" style="right:601.9px;top:1754.7px">0</span>
<span class="sc scr" style="right:601.9px;top:1838.8px">0</span>
<span class="sc scr" style="right:601.9px;top:1878.4px">2</span>
<span class="sc scr" style="right:649.0px;top:272.7px">2</span>
<span class="sc scr" style="right:649.0px;top:374.0px">0</span>
<span class="sc scr" style="right:649.0px;top:478.8px">2</span>
<span class="sc scr" style="right:649.0px;top:580.1px">1</span>
<span class="sc scr" style="right:649.0px;top:684.8px">2</span>
<span class="sc scr" style="right:649.0px;top:786.2px">0</span>
<span class="sc scr" style="right:649.0px;top:890.9px">0</span>
<span class="sc scr" style="right:649.0px;top:992.3px">2</span>
<span class="sc scr" style="right:649.0px;top:1097.0px">2</span>
<span class="sc scr" style="right:649.0px;top:1198.3px">0</span>
<span class="sc scr" style="right:649.0px;top:1303.1px">2</span>
<span class="sc scr" style="right:649.0px;top:1404.4px">1</span>
<span class="sc scr" style="right:649.0px;top:1509.1px">2</span>
<span class="sc scr" style="right:649.0px;top:1651.7px">1</span>
<span class="sc scr" style="right:649.0px;top:1756.4px">0</span>
<span class="sc scr" style="right:649.0px;top:1857.8px">2</span>
<span class="sc scr" style="right:696.1px;top:334.5px">2</span>
<span class="sc scr" style="right:696.1px;top:518.3px">0</span>
<span class="sc scr" style="right:696.1px;top:746.7px">2</span>
<span class="sc scr" style="right:696.1px;top:930.4px">1</span>
<span class="sc scr" style="right:696.1px;top:1158.8px">2</span>
<span class="sc scr" style="right:696.1px;top:1342.6px">1</span>
<span class="sc scr" style="right:696.1px;top:1591.6px">1</span>
<span class="sc scr" style="right:696.1px;top:1795.9px">2</span>
<span class="sc scr" style="right:743.2px;top:437.6px">0</span>
<span class="sc scr" style="right:743.2px;top:827.4px">2</span>
<span class="sc scr" style="right:743.2px;top:1261.8px">0</span>
<span class="sc scr" style="right:743.2px;top:1692.9px">2</span>
<span class="sc scr" style="right:790.3px;top:643.6px">0</span>
<span class="sc scr" style="right:790.3px;top:1466.2px">2</span>
</body></html>
